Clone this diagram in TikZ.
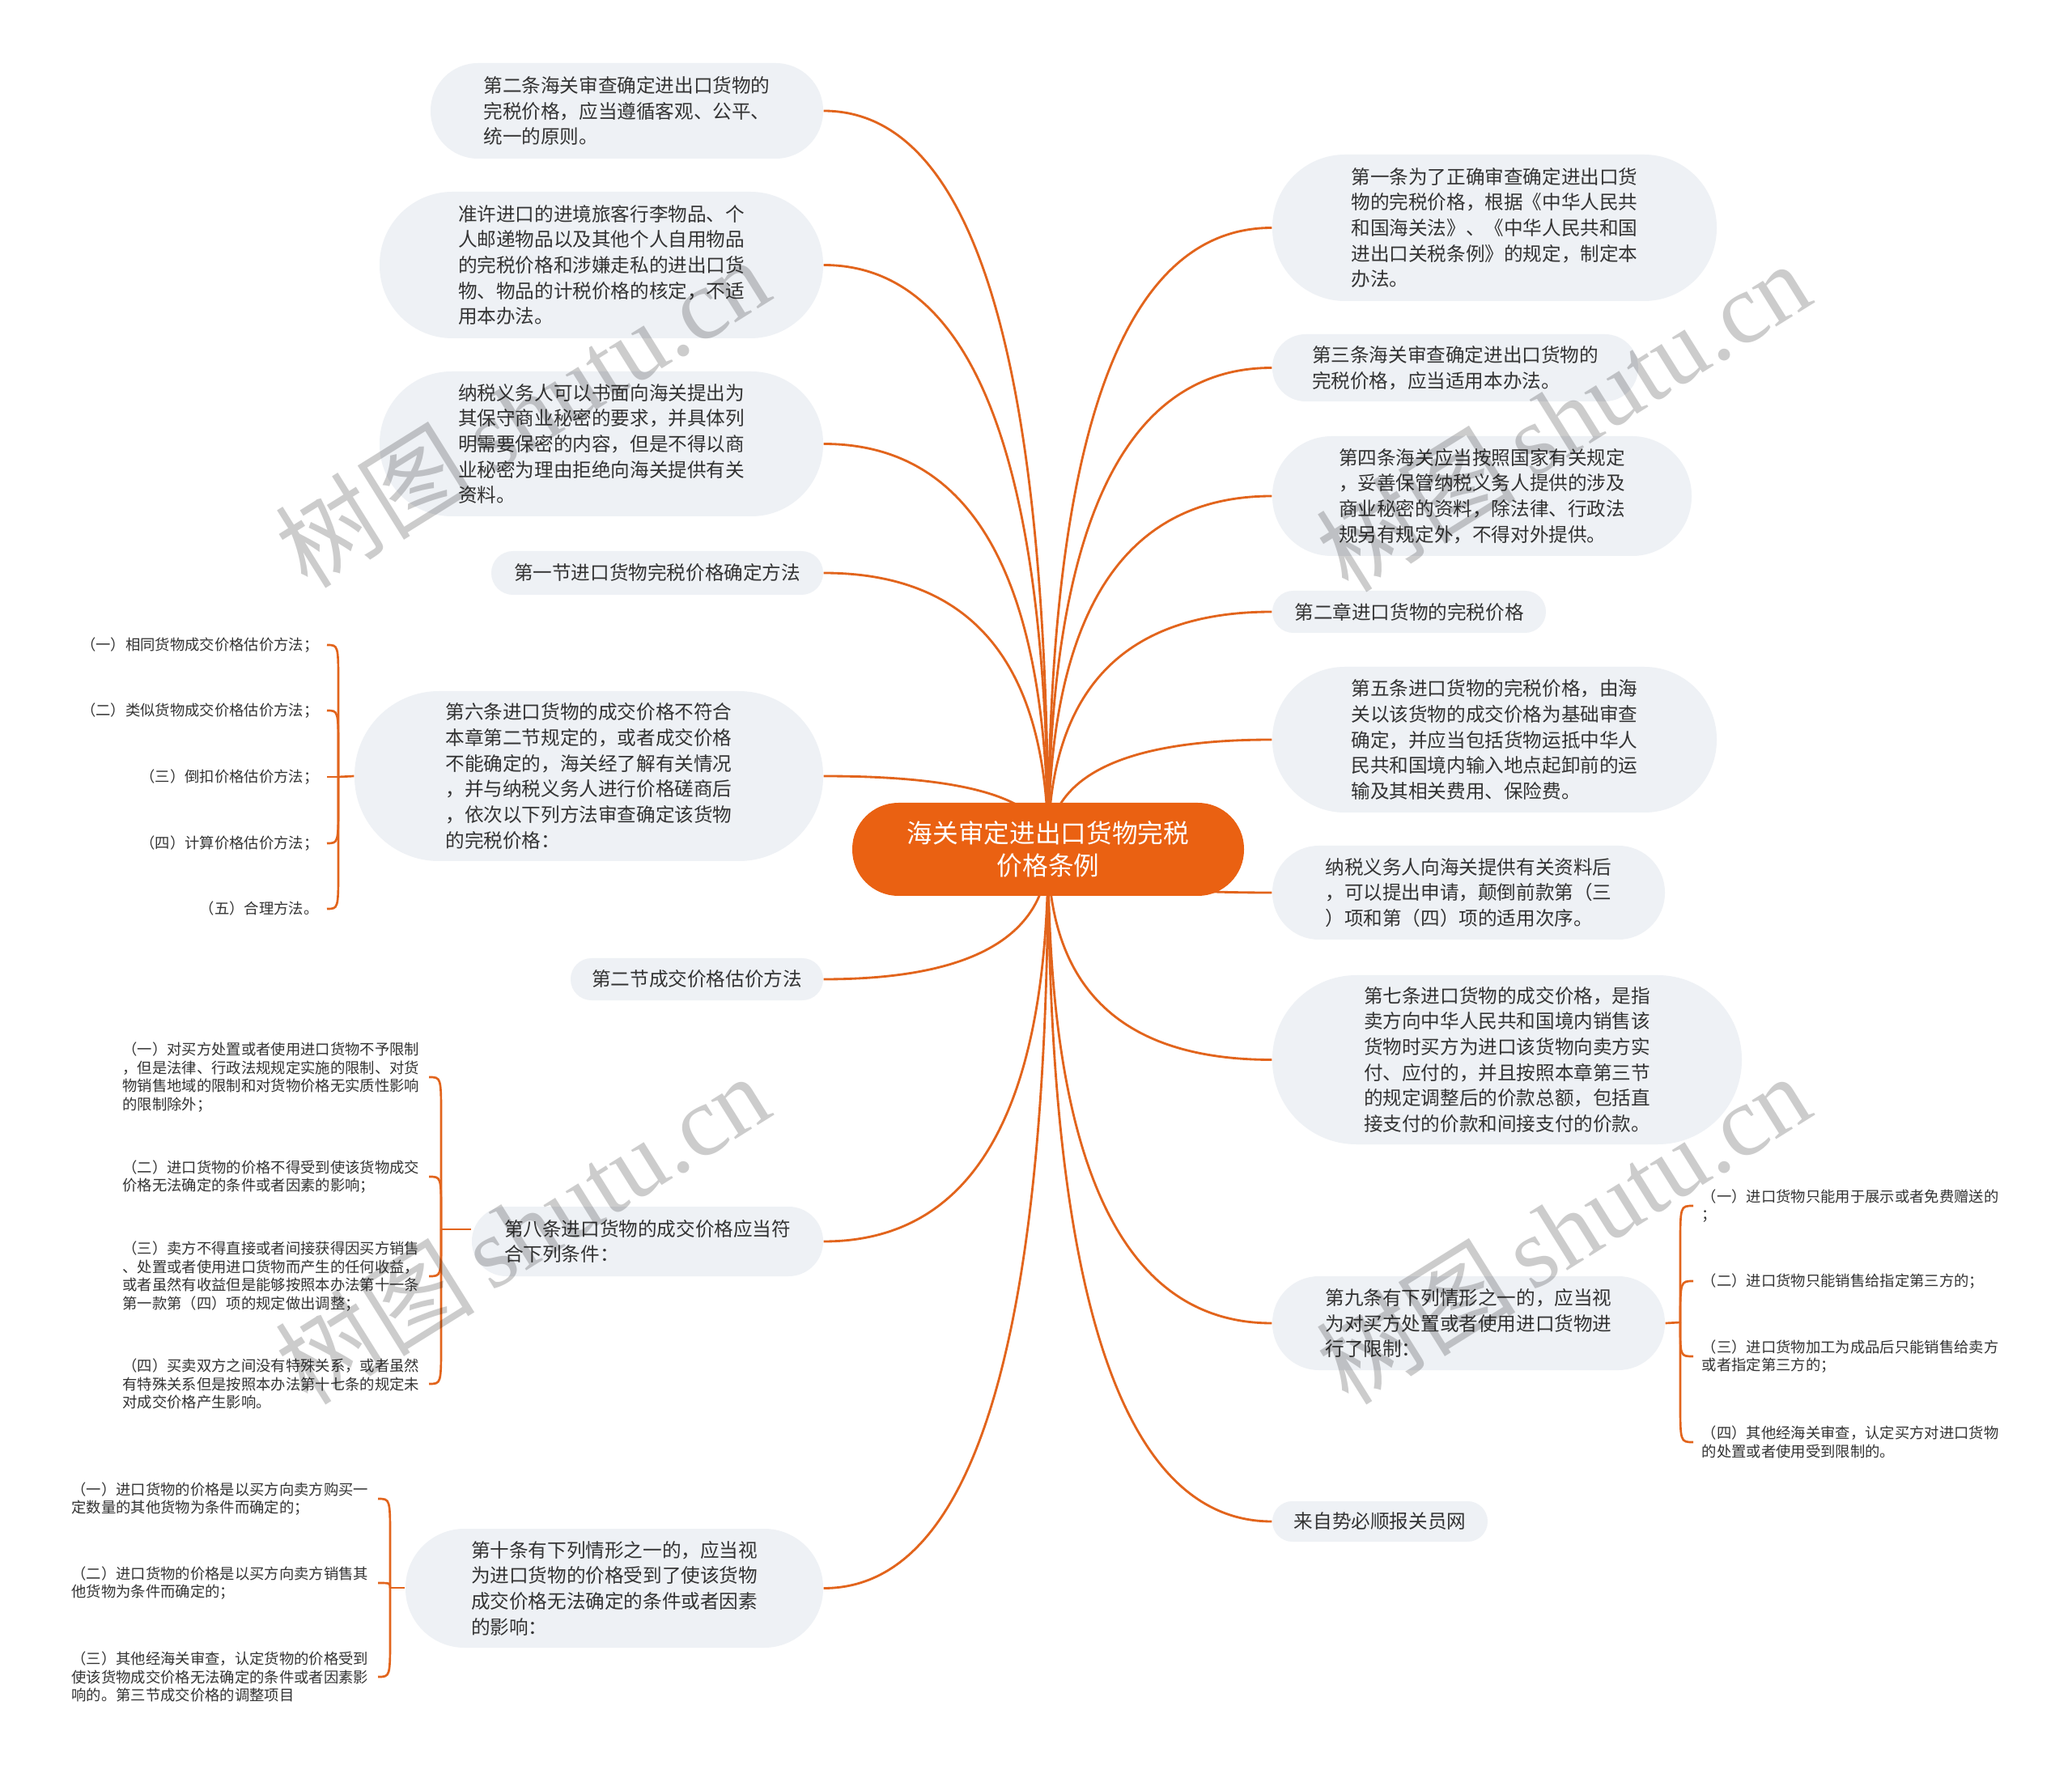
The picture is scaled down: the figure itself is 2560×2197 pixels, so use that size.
\documentclass[tikz,border=0pt]{standalone}
\usepackage{fontspec}
\setmainfont{Noto Sans CJK SC}
\newfontfamily\wmlatin{Liberation Serif}
\usetikzlibrary{calc}
\pgfdeclarelayer{back}
\pgfdeclarelayer{bg}
\pgfsetlayers{back,bg,main}
\definecolor{brc}{HTML}{E2641C}
\definecolor{rootc}{HTML}{EA6112}
\definecolor{boxc}{HTML}{EEF1F5}
\definecolor{txtc}{HTML}{333333}
\newcommand\topicnode[6]{%
  \pgfmathsetmacro\tw{#4*0.3}\pgfmathsetmacro\th{#5*0.3}\pgfmathsetmacro\tr{#5*0.149}%
  \node[topic, minimum width=\tw pt, minimum height=\th pt, rounded corners=\tr pt] (#1) at (#2,#3) {#6};}
\newcommand\conn[1]{\draw[branch] (R.center) .. controls ($(R.center)!0.6667!(R.center |- #1)$) and ($(#1)!0.6667!(R.center |- #1)$) .. (#1);}
\begin{document}
\begin{tikzpicture}[x=0.3pt,y=-0.3pt,
  branch/.style={draw=brc, line width=0.85pt},
  brk/.style={draw=brc, line width=0.8pt},
  topic/.style={fill=boxc, text=txtc, inner sep=0pt, align=left, font=\fontsize{7.08pt}{9.5pt}\selectfont},
  sub/.style={text=txtc, inner xsep=3pt, inner ysep=0pt, font=\fontsize{5.5pt}{6.8pt}\selectfont},
  wm/.style={rotate=32, text=black, text opacity=0.2, inner sep=0pt, font=\fontsize{37pt}{40pt}\selectfont}]
\begin{pgfonlayer}{back}
\fill[white] (0,0) rectangle (2560,2197);
\end{pgfonlayer}
\useasboundingbox (0,0) rectangle (2560,2197);

% root
\node[fill=rootc, text=white, rounded corners=17.1pt, minimum width=145.2pt, minimum height=34.5pt,
  align=center, inner sep=0pt, font=\fontsize{9.5pt}{12pt}\selectfont] (R) at (1295,1049.5)
  {海关审定进出口货物完税\\价格条例};

% left topics
\topicnode{A}{774.5}{137}{485}{118}{第二条海关审查确定进出口货物的\\完税价格，应当遵循客观、公平、\\统一的原则。}
\topicnode{B}{743}{327.5}{548}{181}{准许进口的进境旅客行李物品、个\\人邮递物品以及其他个人自用物品\\的完税价格和涉嫌走私的进出口货\\物、物品的计税价格的核定，不适\\用本办法。}
\topicnode{C}{743}{548.5}{548}{179}{纳税义务人可以书面向海关提出为\\其保守商业秘密的要求，并具体列\\明需要保密的内容，但是不得以商\\业秘密为理由拒绝向海关提供有关\\资料。}
\topicnode{D}{812}{708}{410}{54}{第一节进口货物完税价格确定方法}
\topicnode{E}{727.5}{959}{579}{210}{第六条进口货物的成交价格不符合\\本章第二节规定的，或者成交价格\\不能确定的，海关经了解有关情况\\，并与纳税义务人进行价格磋商后\\，依次以下列方法审查确定该货物\\的完税价格：}
\topicnode{F}{861}{1210}{312}{52}{第二节成交价格估价方法}
\topicnode{G}{800}{1534}{434}{86}{第八条进口货物的成交价格应当符\\合下列条件：}
\topicnode{H}{759}{1962.5}{516}{147}{第十条有下列情形之一的，应当视\\为进口货物的价格受到了使该货物\\成交价格无法确定的条件或者因素\\的影响：}

% right topics
\topicnode{I}{1846.5}{281.5}{549}{181}{第一条为了正确审查确定进出口货\\物的完税价格，根据《中华人民共\\和国海关法》、《中华人民共和国\\进出口关税条例》的规定，制定本\\办法。}
\topicnode{J}{1798}{454.5}{452}{83}{第三条海关审查确定进出口货物的\\完税价格，应当适用本办法。}
\topicnode{K}{1831}{613}{518}{148}{第四条海关应当按照国家有关规定\\，妥善保管纳税义务人提供的涉及\\商业秘密的资料，除法律、行政法\\规另有规定外，不得对外提供。}
\topicnode{L}{1741}{756}{338}{52}{第二章进口货物的完税价格}
\topicnode{M}{1846.5}{914}{549}{180}{第五条进口货物的完税价格，由海\\关以该货物的成交价格为基础审查\\确定，并应当包括货物运抵中华人\\民共和国境内输入地点起卸前的运\\输及其相关费用、保险费。}
\topicnode{N}{1814.5}{1103}{485}{116}{纳税义务人向海关提供有关资料后\\，可以提出申请，颠倒前款第（三\\）项和第（四）项的适用次序。}
\topicnode{O}{1862}{1309.5}{580}{209}{第七条进口货物的成交价格，是指\\卖方向中华人民共和国境内销售该\\货物时买方为进口该货物向卖方实\\付、应付的，并且按照本章第三节\\的规定调整后的价款总额，包括直\\接支付的价款和间接支付的价款。}
\topicnode{P}{1814.5}{1635}{485}{116}{第九条有下列情形之一的，应当视\\为对买方处置或者使用进口货物进\\行了限制：}
\topicnode{Q}{1705}{1880}{266}{50}{来自势必顺报关员网}

% children of E
\node[sub, anchor=east, align=right] (e1) at (404,797) {（一）相同货物成交价格估价方法；};
\node[sub, anchor=east, align=right] (e2) at (404,878) {（二）类似货物成交价格估价方法；};
\node[sub, anchor=east, align=right] (e3) at (404,960) {（三）倒扣价格估价方法；};
\node[sub, anchor=east, align=right] (e4) at (404,1042) {（四）计算价格估价方法；};
\node[sub, anchor=east, align=right] (e5) at (404,1123) {（五）合理方法。};

% children of G
\node[sub, anchor=east, align=left, text width=110.4pt] (g1) at (530,1331) {（一）对买方处置或者使用进口货物不予限制\\，但是法律、行政法规规定实施的限制、对货\\物销售地域的限制和对货物价格无实质性影响\\的限制除外；};
\node[sub, anchor=east, align=left, text width=110.4pt] (g2) at (530,1454) {（二）进口货物的价格不得受到使该货物成交\\价格无法确定的条件或者因素的影响；};
\node[sub, anchor=east, align=left, text width=110.4pt] (g3) at (530,1577) {（三）卖方不得直接或者间接获得因买方销售\\、处置或者使用进口货物而产生的任何收益，\\或者虽然有收益但是能够按照本办法第十一条\\第一款第（四）项的规定做出调整；};
\node[sub, anchor=east, align=left, text width=110.4pt] (g4) at (530,1710) {（四）买卖双方之间没有特殊关系，或者虽然\\有特殊关系但是按照本办法第十七条的规定未\\对成交价格产生影响。};

% children of H
\node[sub, anchor=east, align=left, text width=110.4pt] (h1) at (467,1852) {（一）进口货物的价格是以买方向卖方购买一\\定数量的其他货物为条件而确定的；};
\node[sub, anchor=east, align=left, text width=110.4pt] (h2) at (467,1956) {（二）进口货物的价格是以买方向卖方销售其\\他货物为条件而确定的；};
\node[sub, anchor=east, align=left, text width=110.4pt] (h3) at (467,2072) {（三）其他经海关审查，认定货物的价格受到\\使该货物成交价格无法确定的条件或者因素影\\响的。第三节成交价格的调整项目};

% children of P
\node[sub, anchor=west, align=left, text width=110.4pt] (p1) at (2092,1490) {（一）进口货物只能用于展示或者免费赠送的\\；};
\node[sub, anchor=west, align=left, text width=110.4pt] (p2) at (2092,1583) {（二）进口货物只能销售给指定第三方的；};
\node[sub, anchor=west, align=left, text width=110.4pt] (p3) at (2092,1676) {（三）进口货物加工为成品后只能销售给卖方\\或者指定第三方的；};
\node[sub, anchor=west, align=left, text width=110.4pt] (p4) at (2092,1782) {（四）其他经海关审查，认定买方对进口货物\\的处置或者使用受到限制的。};

\coordinate (Ej) at (418,960);
\coordinate (Gj) at (545,1519);
\coordinate (Hj) at (482,1962);
\coordinate (Pj) at (2076,1634);

\begin{pgfonlayer}{bg}
\conn{A.east}\conn{B.east}\conn{C.east}\conn{D.east}\conn{E.east}\conn{F.east}\conn{G.east}\conn{H.east}
\conn{I.west}\conn{J.west}\conn{K.west}\conn{L.west}\conn{M.west}\conn{N.west}\conn{O.west}\conn{P.west}\conn{Q.west}

% brackets
\draw[brk] (Ej) -- (E.west);
\draw[brk] (e1.east) .. controls (e1.east -| Ej) .. ($(e1.east -| Ej)+(0,50)$) -- (Ej);
\draw[brk] (e2.east) .. controls (e2.east -| Ej) .. ($(e2.east -| Ej)+(0,50)$) -- (Ej);
\draw[brk] (e3.east) -- (Ej);
\draw[brk] (e4.east) .. controls (e4.east -| Ej) .. ($(e4.east -| Ej)+(0,-50)$) -- (Ej);
\draw[brk] (e5.east) .. controls (e5.east -| Ej) .. ($(e5.east -| Ej)+(0,-50)$) -- (Ej);

\draw[brk] (Gj) -- (Gj -| G.west);
\draw[brk] (g1.east) .. controls (g1.east -| Gj) .. ($(g1.east -| Gj)+(0,50)$) -- (Gj);
\draw[brk] (g2.east) .. controls (g2.east -| Gj) .. ($(g2.east -| Gj)+(0,45)$) -- (Gj);
\draw[brk] (g3.east) .. controls (g3.east -| Gj) .. ($(g3.east -| Gj)+(0,-45)$) -- (Gj);
\draw[brk] (g4.east) .. controls (g4.east -| Gj) .. ($(g4.east -| Gj)+(0,-50)$) -- (Gj);

\draw[brk] (Hj) -- (Hj -| H.west);
\draw[brk] (h1.east) .. controls (h1.east -| Hj) .. ($(h1.east -| Hj)+(0,50)$) -- (Hj);
\draw[brk] (h2.east) .. controls (h2.east -| Hj) .. (Hj);
\draw[brk] (h3.east) .. controls (h3.east -| Hj) .. ($(h3.east -| Hj)+(0,-50)$) -- (Hj);

\draw[brk] (P.east) -- (Pj);
\draw[brk] (p1.west) .. controls (p1.west -| Pj) .. ($(p1.west -| Pj)+(0,50)$) -- (Pj);
\draw[brk] (p2.west) .. controls (p2.west -| Pj) .. (Pj);
\draw[brk] (p3.west) .. controls (p3.west -| Pj) .. ($(p3.west -| Pj)+(0,-38)$) -- (Pj);
\draw[brk] (p4.west) .. controls (p4.west -| Pj) .. ($(p4.west -| Pj)+(0,-50)$) -- (Pj);
\end{pgfonlayer}

% watermarks
\node[wm] (w1) at (645,509) {树图\,{\wmlatin shutu.cn}};
\node[wm] (w2) at (1931,514) {树图\,{\wmlatin shutu.cn}};
\node[wm] (w3) at (645,1518) {树图\,{\wmlatin shutu.cn}};
\node[wm] (w4) at (1931,1518) {树图\,{\wmlatin shutu.cn}};
\end{tikzpicture}
\end{document}
